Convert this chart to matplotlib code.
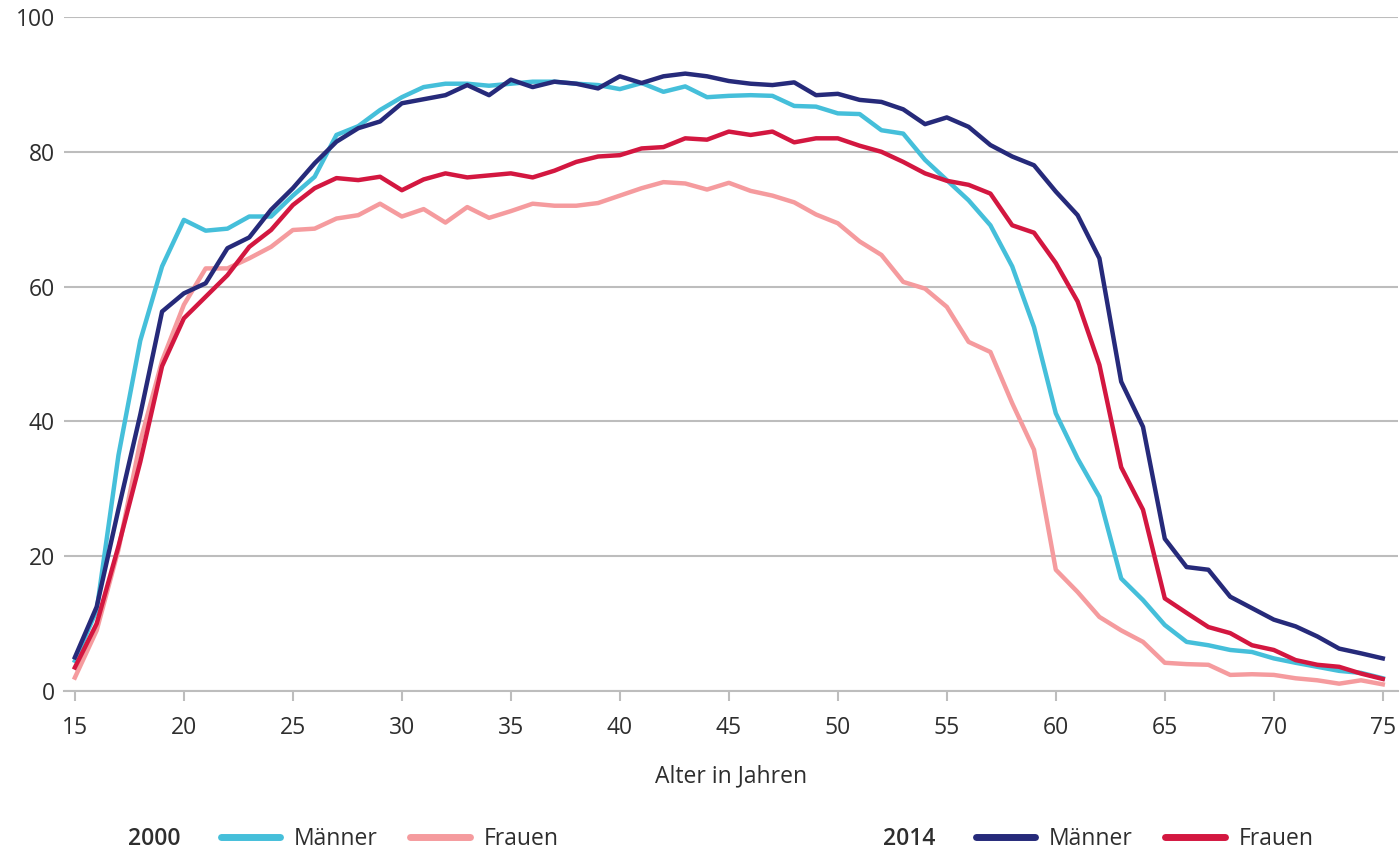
import matplotlib
matplotlib.use("Agg")
import matplotlib.pyplot as plt
import numpy as np

plt.rcParams['font.family'] = ['Open Sans', 'DejaVu Sans']

ages = list(range(15, 76))

maenner_2000 = [4.5, 12, 35, 52, 63, 69.9, 68.3, 68.6, 70.4, 70.4,
                73.5, 76.3, 82.5, 83.8, 86.2, 88.1, 89.6, 90.1, 90.1, 89.8,
                90.1, 90.4, 90.4, 90.1, 89.9, 89.3, 90.2, 88.9, 89.7, 88.1,
                88.3, 88.4, 88.3, 86.8, 86.7, 85.7, 85.6, 83.2, 82.7, 78.8,
                75.8, 72.8, 69.1, 63.0, 54.0, 41.2, 34.5, 28.8, 16.7, 13.5,
                9.8, 7.3, 6.8, 6.1, 5.8, 4.85, 4.2, 3.6, 3.0, 2.7, 1.9]

frauen_2000 = [2, 9, 21, 37, 49, 57.3, 62.7, 62.7, 64.2, 65.9,
               68.4, 68.6, 70.1, 70.6, 72.3, 70.4, 71.5, 69.5, 71.8, 70.2,
               71.2, 72.3, 72.0, 72.0, 72.4, 73.5, 74.6, 75.5, 75.3, 74.4,
               75.4, 74.2, 73.5, 72.5, 70.7, 69.4, 66.7, 64.7, 60.7, 59.7,
               57.0, 51.8, 50.3, 42.7, 35.8, 18.0, 14.7, 11.0, 9.0, 7.3,
               4.2, 4.0, 3.9, 2.4, 2.5, 2.4, 1.9, 1.6, 1.1, 1.6, 1.0]

maenner_2014 = [5, 12.5, 27, 41, 56.3, 59, 60.5, 65.7, 67.3, 71.4,
                74.6, 78.3, 81.5, 83.5, 84.5, 87.2, 87.8, 88.4, 89.9, 88.4,
                90.7, 89.6, 90.4, 90.1, 89.4, 91.2, 90.2, 91.2, 91.6, 91.2,
                90.5, 90.1, 89.9, 90.3, 88.4, 88.6, 87.7, 87.4, 86.3, 84.1,
                85.1, 83.7, 81.0, 79.3, 78.0, 74.1, 70.6, 64.2, 45.9, 39.2,
                22.6, 18.4, 18.0, 14.0, 12.3, 10.6, 9.6, 8.1, 6.3, 5.6, 4.85]

frauen_2014 = [3.5, 10, 21.5, 34, 48.2, 55.3, 58.5, 61.7, 65.9, 68.4,
               72.1, 74.6, 76.1, 75.8, 76.3, 74.3, 75.9, 76.8, 76.2, 76.5,
               76.8, 76.2, 77.2, 78.5, 79.3, 79.5, 80.5, 80.7, 82.0, 81.8,
               83.0, 82.5, 83.0, 81.4, 82.0, 82.0, 80.9, 80.0, 78.5, 76.8,
               75.7, 75.1, 73.8, 69.1, 68.0, 63.5, 57.8, 48.4, 33.2, 26.9,
               13.75, 11.6, 9.5, 8.6, 6.8, 6.1, 4.6, 3.9, 3.6, 2.6, 1.8]

x_ticks = [15, 20, 25, 30, 35, 40, 45, 50, 55, 60, 65, 70, 75]
y_ticks = [0, 20, 40, 60, 80, 100]

c_m2000 = "#45BFDA"
c_f2000 = "#F59B9E"
c_m2014 = "#262A7A"
c_f2014 = "#D31740"
grid_c = "#BDBDBD"
text_c = "#2E2E2E"
fs = 16.5

fig = plt.figure(figsize=(14, 8.49), dpi=100)
ax = fig.add_axes([0.0457, 0.186, 0.9529, 0.794])

lw = 3.2
l1, = ax.plot(ages, maenner_2000, color=c_m2000, lw=lw, label="Männer", zorder=3)
l2, = ax.plot(ages, frauen_2000, color=c_f2000, lw=lw, label="Frauen", zorder=3)
l3, = ax.plot(ages, maenner_2014, color=c_m2014, lw=lw, label="Männer", zorder=4)
l4, = ax.plot(ages, frauen_2014, color=c_f2014, lw=lw, label="Frauen", zorder=4)

ax.set_xlim(14.5, 75.7)
ax.set_ylim(0, 100)
ax.set_xticks(x_ticks)
ax.set_yticks(y_ticks)
ax.yaxis.grid(True, color=grid_c, lw=1.5)
ax.set_axisbelow(True)
for s in ['top', 'right', 'left']:
    ax.spines[s].set_visible(False)
ax.spines['bottom'].set_color(grid_c)
ax.spines['bottom'].set_linewidth(1.5)
ax.tick_params(axis='x', length=7.2, width=1.5, color=grid_c, labelsize=fs, labelcolor=text_c, pad=11)
ax.tick_params(axis='y', length=0, labelsize=fs, labelcolor=text_c, pad=6.5)
ax.set_xlabel("Alter in Jahren", fontsize=fs, color=text_c)
ax.xaxis.set_label_coords(0.5, -0.108)

# Legend
base_y = 1 - 845 / 849
fig.text(0.0914, base_y, "2000", fontsize=fs, fontweight='semibold', color=text_c, va='baseline', ha='left')
fig.text(0.6307, base_y, "2014", fontsize=fs, fontweight='semibold', color=text_c, va='baseline', ha='left')
leg_kw = dict(ncol=2, frameon=False, fontsize=fs, handlelength=2.58, handletextpad=0.6,
              columnspacing=1.45, borderaxespad=0, borderpad=0)
leg1 = fig.legend(handles=[l1, l2], loc='lower left', bbox_to_anchor=(0.1575, -0.002), **leg_kw)
leg2 = fig.legend(handles=[l3, l4], loc='lower left', bbox_to_anchor=(0.6968, -0.002), **leg_kw)
for leg in (leg1, leg2):
    for t in leg.get_texts():
        t.set_color(text_c)
    for h in leg.legend_handles:
        h.set_linewidth(5)
        h.set_solid_capstyle('round')

fig.savefig("out.png", dpi=100)
